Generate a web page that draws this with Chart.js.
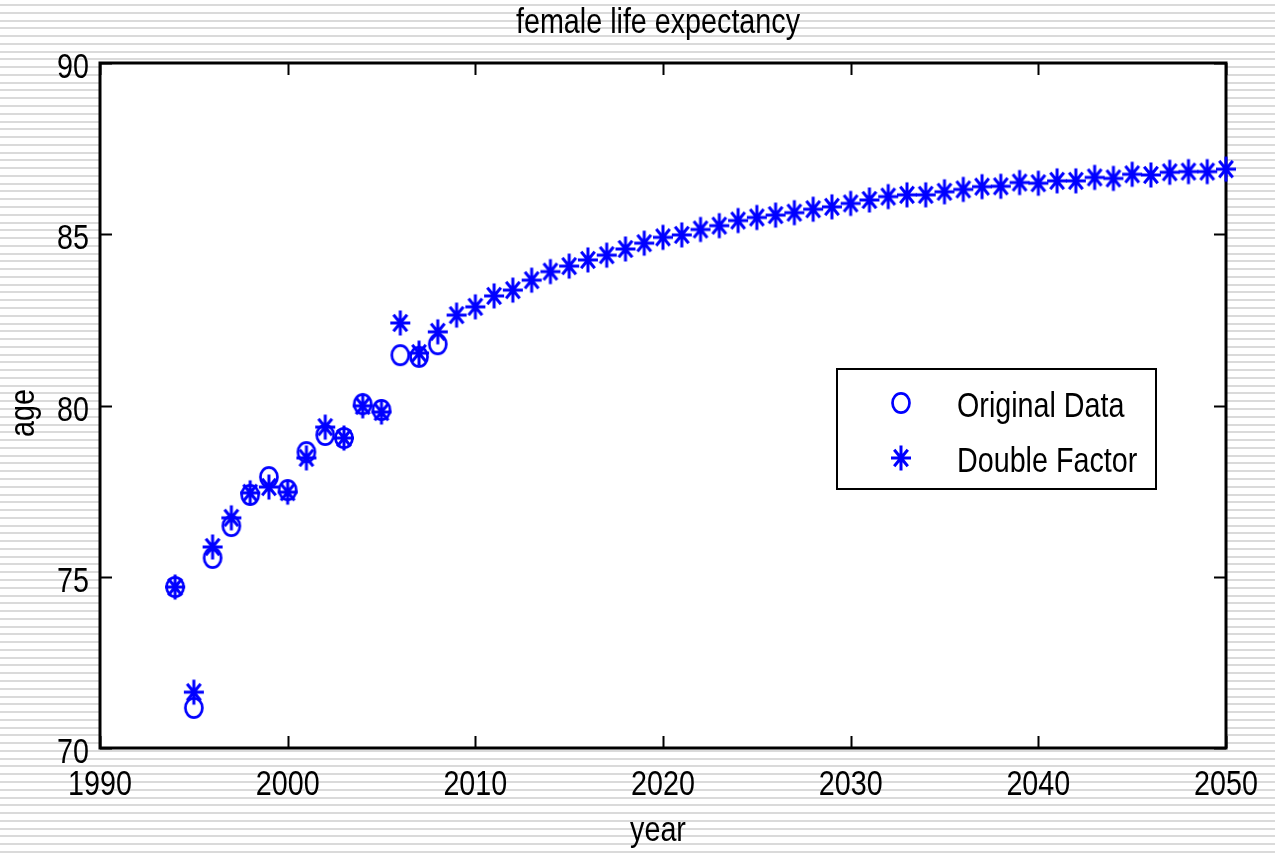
<!DOCTYPE html>
<html><head><meta charset="utf-8">
<script src="https://cdn.jsdelivr.net/npm/chart.js@4/dist/chart.umd.min.js"></script>
<style>html,body{margin:0;padding:0;background:#fff;overflow:hidden}#wrap{width:1275px;height:853px;position:relative}</style>
</head><body><div id="wrap"><canvas id="c" width="1275" height="853"></canvas></div>
<script>
const FONT = "'Liberation Sans', Arial, sans-serif";
const chartTitle = 'female life expectancy';
const xAxisLabel = 'year';
const yAxisLabel = 'age';
const seriesNames = ['Original Data', 'Double Factor'];
const xTicks = [1990, 2000, 2010, 2020, 2030, 2040, 2050];
const yTicks = [70, 75, 80, 85, 90];

const originalYears = [1994, 1995, 1996, 1997, 1998, 1999, 2000, 2001, 2002, 2003, 2004, 2005, 2006, 2007, 2008];
const originalAges  = [74.70, 71.17, 75.55, 76.48, 77.39, 77.91, 77.53, 78.64, 79.14, 79.05, 80.04, 79.87, 81.47, 81.42, 81.79];

const doubleYears = [1994, 1995, 1996, 1997, 1998, 1999, 2000, 2001, 2002, 2003, 2004, 2005, 2006, 2007, 2008, 2009,
  2010, 2011, 2012, 2013, 2014, 2015, 2016, 2017, 2018, 2019, 2020, 2021, 2022, 2023, 2024, 2025, 2026, 2027, 2028, 2029,
  2030, 2031, 2032, 2033, 2034, 2035, 2036, 2037, 2038, 2039, 2040, 2041, 2042, 2043, 2044, 2045, 2046, 2047, 2048, 2049, 2050];
const doubleAges = [74.70, 71.63, 75.87, 76.72, 77.45, 77.62, 77.47, 78.47, 79.37, 79.05, 79.99, 79.81, 82.41, 81.53, 82.15, 82.64,
  82.88, 83.20, 83.37, 83.66, 83.91, 84.07, 84.25, 84.39, 84.57, 84.74, 84.91, 84.98, 85.14, 85.25, 85.40, 85.49, 85.56, 85.63, 85.73, 85.80,
  85.90, 86.00, 86.10, 86.15, 86.15, 86.24, 86.31, 86.39, 86.40, 86.51, 86.49, 86.56, 86.56, 86.66, 86.63, 86.75, 86.73, 86.81, 86.83, 86.83, 86.90];

const BLUE = '#0000ff';
const SX = 0.82;      // horizontal compression of text, as in the reference
const FS = 35;        // font size

// marker images (slightly taller than wide, like the reference)
function makeCircle() {
  const c = document.createElement('canvas'); c.width = 24; c.height = 26;
  const g = c.getContext('2d');
  g.strokeStyle = BLUE; g.lineWidth = 2.7;
  g.beginPath(); g.ellipse(12, 13, 8.5, 9.7, 0, 0, Math.PI * 2); g.stroke();
  return c;
}
function makeStar() {
  const c = document.createElement('canvas'); c.width = 24; c.height = 28;
  const g = c.getContext('2d');
  g.strokeStyle = BLUE; g.lineWidth = 3; g.lineCap = 'butt';
  const cx = 12, cy = 14;
  g.beginPath();
  g.moveTo(cx - 10, cy); g.lineTo(cx + 10, cy);
  g.moveTo(cx, cy - 12.5); g.lineTo(cx, cy + 12.5);
  g.moveTo(cx - 6.8, cy - 8.3); g.lineTo(cx + 6.8, cy + 8.3);
  g.moveTo(cx - 6.8, cy + 8.3); g.lineTo(cx + 6.8, cy - 8.3);
  g.stroke();
  return c;
}
const circleImg = makeCircle();
const starImg = makeStar();

function sText(ctx, txt, x, y, align) {
  ctx.save();
  ctx.translate(x, y);
  ctx.scale(SX, 1);
  ctx.textAlign = align;
  ctx.textBaseline = 'alphabetic';
  ctx.fillText(txt, 0, 0);
  ctx.restore();
}

const backdrop = {
  id: 'backdrop',
  beforeDraw(chart) {
    const {ctx, width, height, chartArea: a} = chart;
    ctx.save();
    ctx.fillStyle = '#ffffff'; ctx.fillRect(0, 0, width, height);
    ctx.fillStyle = '#dadada';
    for (let y = 5; y < height + 4; y += 7.77) ctx.fillRect(0, Math.round(y) - 1, width, 2);
    ctx.fillStyle = '#ffffff';
    ctx.fillRect(a.left, a.top, a.right - a.left, a.bottom - a.top);
    ctx.restore();
  },
  beforeDatasetsDraw(chart) {
    const {ctx, chartArea: a, scales} = chart;
    ctx.save();
    // inward tick marks on all four sides
    ctx.strokeStyle = '#000'; ctx.lineWidth = 2;
    ctx.beginPath();
    scales.x.ticks.forEach(t => {
      const px = Math.round(scales.x.getPixelForValue(t.value)) + 0.5;
      ctx.moveTo(px, a.bottom); ctx.lineTo(px, a.bottom - 12);
      ctx.moveTo(px, a.top); ctx.lineTo(px, a.top + 12);
    });
    scales.y.ticks.forEach(t => {
      const py = Math.round(scales.y.getPixelForValue(t.value)) + 0.5;
      ctx.moveTo(a.left, py); ctx.lineTo(a.left + 12, py);
      ctx.moveTo(a.right, py); ctx.lineTo(a.right - 12, py);
    });
    ctx.stroke();
    ctx.lineWidth = 3;
    ctx.strokeRect(a.left, a.top, a.right - a.left, a.bottom - a.top);
    // tick labels
    ctx.fillStyle = '#000';
    ctx.font = FS + 'px ' + FONT;
    scales.x.ticks.forEach(t => {
      sText(ctx, String(t.value), scales.x.getPixelForValue(t.value), 795, 'center');
    });
    scales.y.ticks.forEach(t => {
      sText(ctx, String(t.value), 89, scales.y.getPixelForValue(t.value) + 15, 'right');
    });
    ctx.restore();
  },
  afterDraw(chart) {
    const {ctx} = chart;
    ctx.save();
    ctx.fillStyle = '#000';
    ctx.font = FS + 'px ' + FONT;
    sText(ctx, chartTitle, 658, 33, 'center');
    sText(ctx, xAxisLabel, 658, 841, 'center');
    ctx.save();
    ctx.translate(34, 413);
    ctx.rotate(-Math.PI / 2);
    sText(ctx, yAxisLabel, 0, 0, 'center');
    ctx.restore();
    // legend
    const lx = 837, ly = 369, lw = 319, lh = 120;
    ctx.fillStyle = '#fff'; ctx.fillRect(lx, ly, lw, lh);
    ctx.strokeStyle = '#000'; ctx.lineWidth = 2; ctx.strokeRect(lx, ly, lw, lh);
    ctx.drawImage(circleImg, 901 - circleImg.width / 2, 403 - circleImg.height / 2);
    ctx.drawImage(starImg, 901 - starImg.width / 2, 458 - starImg.height / 2);
    ctx.fillStyle = '#000';
    sText(ctx, seriesNames[0], 957, 417, 'left');
    sText(ctx, seriesNames[1], 957, 472, 'left');
    ctx.restore();
  }
};

new Chart(document.getElementById('c'), {
  type: 'scatter',
  data: {
    datasets: [
      {
        label: seriesNames[0],
        data: originalYears.map((yr, i) => ({x: yr, y: originalAges[i]})),
        pointStyle: circleImg, pointRadius: 10,
        borderColor: BLUE, backgroundColor: 'rgba(0,0,0,0)', showLine: false, clip: false
      },
      {
        label: seriesNames[1],
        data: doubleYears.map((yr, i) => ({x: yr, y: doubleAges[i]})),
        pointStyle: starImg, pointRadius: 11,
        borderColor: BLUE, backgroundColor: BLUE, showLine: false, clip: false
      }
    ]
  },
  options: {
    responsive: false, devicePixelRatio: 1, animation: false,
    layout: {padding: {left: 0, top: 63, right: 49, bottom: 0}},
    plugins: {legend: {display: false}, title: {display: false}, tooltip: {enabled: false}},
    scales: {
      x: {
        type: 'linear', min: 1990, max: 2050,
        afterBuildTicks: s => { s.ticks = xTicks.map(v => ({value: v})); },
        afterFit: s => { s.height = 105; },
        grid: {display: false, drawTicks: false}, border: {display: false},
        ticks: {display: false}
      },
      y: {
        type: 'linear', min: 70, max: 90,
        afterBuildTicks: s => { s.ticks = yTicks.map(v => ({value: v})); },
        afterFit: s => { s.width = 100; },
        grid: {display: false, drawTicks: false}, border: {display: false},
        ticks: {display: false}
      }
    }
  },
  plugins: [backdrop]
});
</script></body></html>
